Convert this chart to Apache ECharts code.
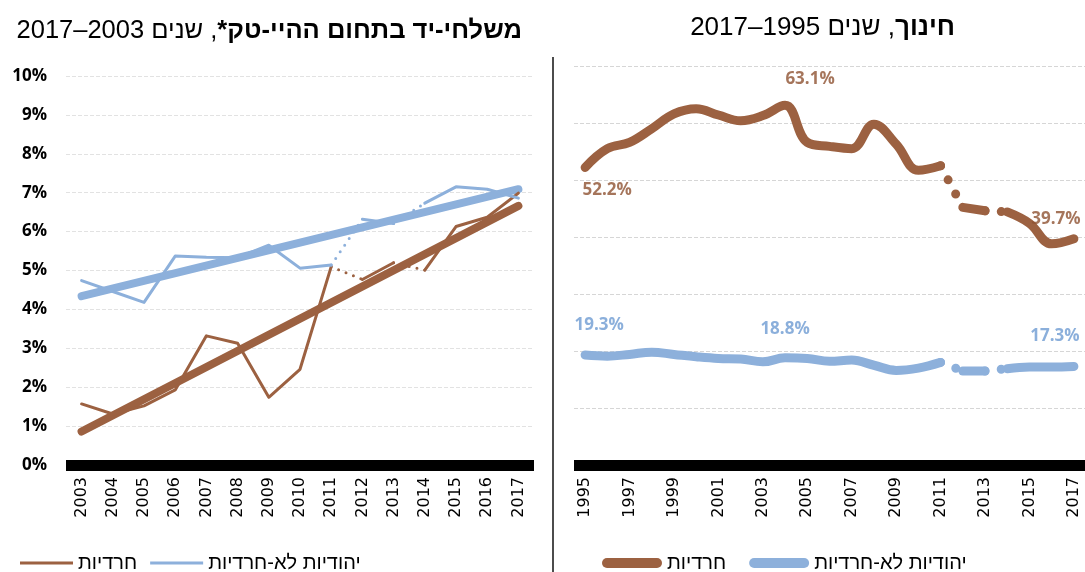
<!DOCTYPE html>
<html>
<head>
<meta charset="utf-8">
<script src="https://cdn.jsdelivr.net/npm/echarts@6/dist/echarts.min.js"></script>
<style>
  html, body { margin: 0; padding: 0; background: #fff; }
  /* rtl so the canvas lays out the Hebrew strings right to left */
  #chart { width: 1085px; height: 572px; direction: rtl; }
</style>
</head>
<body>
<div id="chart"></div>
<script>
// high-tech occupations, % of employed women
const hiTechYears = ['2003', '2004', '2005', '2006', '2007', '2008', '2009', '2010', '2011', '2012', '2013', '2014', '2015', '2016', '2017'];
const hiTechHaredi = [1.57, 1.31, 1.52, 1.93, 3.32, 3.13, 1.74, 2.46, 5.10, 4.77, 5.20, 5.01, 6.13, 6.37, 6.99];
const hiTechNonHaredi = [4.74, 4.46, 4.18, 5.37, 5.34, 5.33, 5.65, 5.06, 5.14, 6.32, 6.21, 6.73, 7.15, 7.09, 6.86];
// trend lines, value at 2003 and at 2017
const hiTechHarediTrend = [0.86, 6.66];
const hiTechNonHarediTrend = [4.34, 7.09];

// education, % of employed women
const eduYears = ['1995', '1996', '1997', '1998', '1999', '2000', '2001', '2002', '2003', '2004', '2005', '2006',
  '2007', '2008', '2009', '2010', '2011', '2012', '2013', '2014', '2015', '2016', '2017'];
const eduHaredi = [52.2, 55.5, 56.6, 59.0, 61.6, 62.5, 61.4, 60.4, 61.3, 63.1, 56.6, 55.9,
  55.5, 59.8, 56.3, 51.7, 52.5, 45.2, 44.6, 44.4, 42.4, 38.8, 39.7];
const eduNonHaredi = [19.3, 19.1, 19.4, 19.8, 19.4, 19.0, 18.7, 18.6, 18.1, 18.8, 18.7, 18.2,
  18.4, 17.5, 16.6, 17.0, 18.0, 16.5, 16.5, 16.9, 17.2, 17.2, 17.3];
// which years get a value label
const eduLabelYears = ['1995', '2004', '2017'];

const yPercentTicks = [0, 10, 1]; // min, max, step of the left axis

const BROWN = '#9C6141';
const BLUE = '#8DB0DB';
const HAREDI = 'חרדיות';
const NON_HAREDI = 'יהודיות לא-חרדיות';
const HEB_FONT = "'Liberation Sans Narrow', 'Liberation Sans', Arial, sans-serif";

// keep only the points between two indexes, so one line can change style part way
function part(values, from, to) {
  return values.map((v, i) => (i >= from && i <= to ? v : null));
}

// solid / dotted stretches (series break in 2012 and 2014)
const hiTechParts = [[0, 8, 'solid'], [8, 9, 'dots'], [9, 10, 'solid'], [10, 11, 'dots'], [11, 14, 'solid']];
const eduParts = [[0, 16, 'solid'], [16, 17, 'dots'], [17, 18, 'solid'], [18, 19, 'dots'], [19, 22, 'solid']];

function lines(name, values, parts, color, width, axis, smooth, dotGap, z) {
  return parts.map(([a, b, kind]) => ({
    name: name,
    type: 'line',
    xAxisIndex: axis,
    yAxisIndex: axis,
    data: part(values, a, b),
    symbol: 'none',
    smooth: smooth,
    connectNulls: false,
    silent: true,
    z: z,
    itemStyle: { color: color },
    lineStyle: {
      color: color,
      width: width,
      cap: 'round',
      join: 'round',
      type: kind === 'dots' ? [0, dotGap] : 'solid'
    }
  }));
}

function trend(name, ends, color) {
  return {
    name: name,
    type: 'line',
    xAxisIndex: 0,
    yAxisIndex: 0,
    data: [[hiTechYears[0], ends[0]], [hiTechYears[hiTechYears.length - 1], ends[1]]],
    symbol: 'none',
    silent: true,
    z: 2,
    itemStyle: { color: color },
    lineStyle: { color: color, width: 8, cap: 'round' }
  };
}

// value labels; offsets move each label off its point as in the source
function valueLabels(values, color, offsets) {
  return {
    type: 'scatter',
    xAxisIndex: 1,
    yAxisIndex: 1,
    silent: true,
    symbolSize: 1,
    z: 5,
    itemStyle: { color: 'rgba(0,0,0,0)' },
    data: eduLabelYears.map((yr, k) => ({
      value: [yr, values[eduYears.indexOf(yr)]],
      label: { offset: offsets[k] }
    })),
    label: {
      show: true,
      position: 'inside',
      color: color,
      fontFamily: 'Open Sans',
      fontWeight: 'bold',
      fontSize: 17,
      formatter: p => p.value[1].toFixed(1) + '%'
    }
  };
}

const pill = 'path://M5,0 H55 A5,5 0 0 1 55,10 H5 A5,5 0 0 1 5,0 Z';

function titleRich(size) {
  return {
    n: { fontFamily: HEB_FONT, fontSize: size, fontWeight: 'normal', color: '#000' },
    b: { fontFamily: HEB_FONT, fontSize: size, fontWeight: 'bold', color: '#000' }
  };
}

const chart = echarts.init(document.getElementById('chart'));

chart.setOption({
  animation: false,
  title: [
    {
      right: 563,
      top: 18,
      padding: 0,
      text: '{n|, שנים 2003–2017}{b|משלחי-יד בתחום ההיי-טק*}',
      textStyle: { fontWeight: 'normal', rich: titleRich(25.5) }
    },
    {
      right: 130,
      top: 15,
      padding: 0,
      text: '{n|, שנים 1995–2017}{b|חינוך}',
      textStyle: { fontWeight: 'normal', rich: titleRich(26) }
    }
  ],
  legend: [
    {
      left: 20,
      top: 553,
      padding: 0,
      data: [HAREDI, NON_HAREDI],
      icon: 'rect',
      itemWidth: 53,
      itemHeight: 3,
      itemGap: 13,
      selectedMode: false,
      textStyle: { fontFamily: HEB_FONT, fontSize: 20, color: '#000' }
    },
    {
      left: 602,
      top: 553,
      padding: 0,
      data: [HAREDI, NON_HAREDI],
      icon: pill,
      itemWidth: 60,
      itemHeight: 10,
      itemGap: 23,
      selectedMode: false,
      textStyle: { fontFamily: HEB_FONT, fontSize: 20, color: '#000' }
    }
  ],
  grid: [
    { left: 66, top: 76, width: 468, height: 389 },
    { left: 574, top: 66, width: 511, height: 399 }
  ],
  xAxis: [
    {
      gridIndex: 0,
      type: 'category',
      data: hiTechYears,
      boundaryGap: true,
      axisLine: { lineStyle: { color: '#000', width: 11, cap: 'butt' } },
      axisTick: { show: false },
      axisLabel: { rotate: 90, margin: 12, interval: 0, fontFamily: 'DejaVu Sans', fontSize: 16, color: '#000' }
    },
    {
      gridIndex: 1,
      type: 'category',
      data: eduYears,
      boundaryGap: true,
      axisLine: { lineStyle: { color: '#000', width: 11, cap: 'butt' } },
      axisTick: { show: false },
      axisLabel: { rotate: 90, margin: 12, interval: 1, fontFamily: 'DejaVu Sans', fontSize: 16, color: '#000' }
    }
  ],
  yAxis: [
    {
      gridIndex: 0,
      type: 'value',
      min: yPercentTicks[0],
      max: yPercentTicks[1],
      interval: yPercentTicks[2],
      axisLine: { show: false },
      axisTick: { show: false },
      axisLabel: { formatter: '{value}%', margin: 19, fontFamily: 'Open Sans', fontWeight: 'bold', fontSize: 17, color: '#000' },
      splitLine: { lineStyle: { color: '#e2e2e2', type: 'dashed', width: 1 } }
    },
    {
      gridIndex: 1,
      type: 'value',
      min: 0,
      max: 70,
      interval: 10,
      axisLine: { show: false },
      axisTick: { show: false },
      axisLabel: { show: false },
      splitLine: { lineStyle: { color: '#d6d6d6', type: 'dashed', width: 1 } }
    }
  ],
  graphic: [
    {
      type: 'line',
      shape: { x1: 553, y1: 57, x2: 553, y2: 572 },
      style: { stroke: '#111', lineWidth: 1.5 },
      silent: true
    }
  ],
  series: [
    trend(HAREDI, hiTechHarediTrend, BROWN),
    trend(NON_HAREDI, hiTechNonHarediTrend, BLUE),
    ...lines(HAREDI, hiTechHaredi, hiTechParts, BROWN, 3, 0, false, 8, 3),
    ...lines(NON_HAREDI, hiTechNonHaredi, hiTechParts, BLUE, 3, 0, false, 8, 3),
    ...lines(HAREDI, eduHaredi, eduParts, BROWN, 9, 1, 0.4, 16, 3),
    ...lines(NON_HAREDI, eduNonHaredi, eduParts, BLUE, 9, 1, 0.4, 16, 3),
    valueLabels(eduHaredi, '#8E5232', [[22, 23], [25, -26], [-18, -20]]),
    valueLabels(eduNonHaredi, '#6E9BD2', [[14, -30], [0, -29], [-19, -30]])
  ]
});
</script>
</body>
</html>
